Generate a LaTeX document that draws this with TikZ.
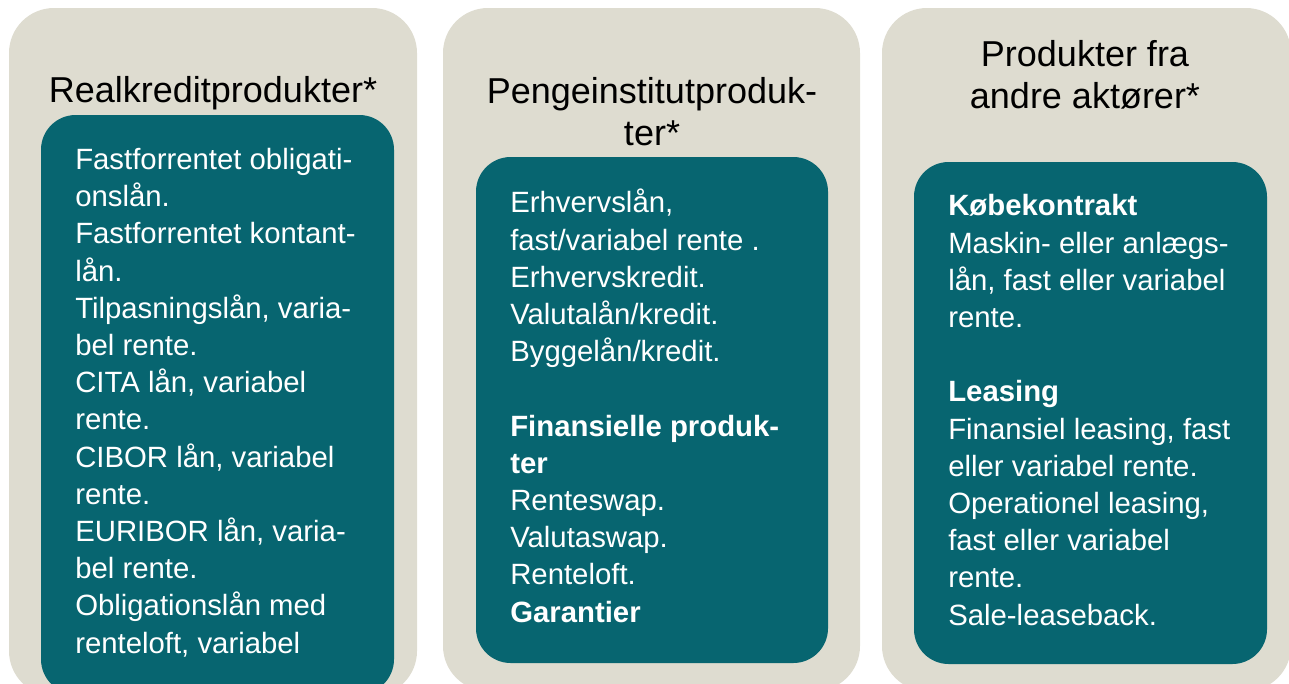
\documentclass[tikz,border=0pt]{standalone}
\usepackage{fontspec}
\setmainfont{Liberation Sans}
\usetikzlibrary{positioning}

\definecolor{sand}{RGB}{222,220,208}
\definecolor{petrol}{RGB}{7,101,112}

\tikzset{
  panel/.style={fill=sand, rounded corners=33.75pt},
  listbox/.style={fill=petrol, rounded corners=26pt},
  heading/.style={align=center, inner sep=0pt, font=\fontsize{27}{31.5}\selectfont},
  items/.style={align=left, inner sep=0pt, text=white, font=\fontsize{22}{27.9}\selectfont}
}

\begin{document}
\begin{tikzpicture}[x=0.75pt,y=-0.75pt]
        \clip (0,0) rectangle (1289,683);

        % three columns, cut off at the bottom
        \fill[panel] (9,8) rectangle (417,696);
        \fill[panel] (443,8) rectangle (860,691);
        \fill[panel] (882,8) rectangle (1291,691);

        \fill[listbox] (41,115) rectangle (394,694);
        \fill[listbox] (476,157) rectangle (828,663);
        \fill[listbox] (914,162) rectangle (1267,664);

        % headings (base = last line)
        \node[heading, anchor=base] (realkredit) at (213,102) {Realkreditprodukter*};
        \node[heading, anchor=base] (pengeinst) at (652,145) {Pengeinstitutproduk-\\ter*};
        \node[heading, anchor=base] (andre) at (1085,108) {Produkter fra\\andre aktører*};

        % product lists
        \node[items, anchor=base west] (realliste) at (75,653) {Fastforrentet obligati-\\onslån.\\Fastforrentet kontant-\\lån.\\Tilpasningslån, varia-\\bel rente.\\CITA lån, variabel\\rente.\\CIBOR lån, variabel\\rente.\\EURIBOR lån, varia-\\bel rente.\\Obligationslån med\\renteloft, variabel};
        \node[items, anchor=base west] (pengeliste) at (510,622) {Erhvervslån,\\fast/variabel rente .\\Erhvervskredit.\\Valutalån/kredit.\\Byggelån/kredit.\\~\\\textbf{Finansielle produk-}\\\textbf{ter}\\Renteswap.\\Valutaswap.\\Renteloft.\\\textbf{Garantier}};
        \node[items, anchor=base west] (andreliste) at (948,625) {\textbf{Købekontrakt}\\Maskin- eller anlægs-\\lån, fast eller variabel\\rente.\\~\\\textbf{Leasing}\\Finansiel leasing, fast\\eller variabel rente.\\Operationel leasing,\\fast eller variabel\\rente.\\Sale-leaseback.};
        \end{tikzpicture}
\end{document}
